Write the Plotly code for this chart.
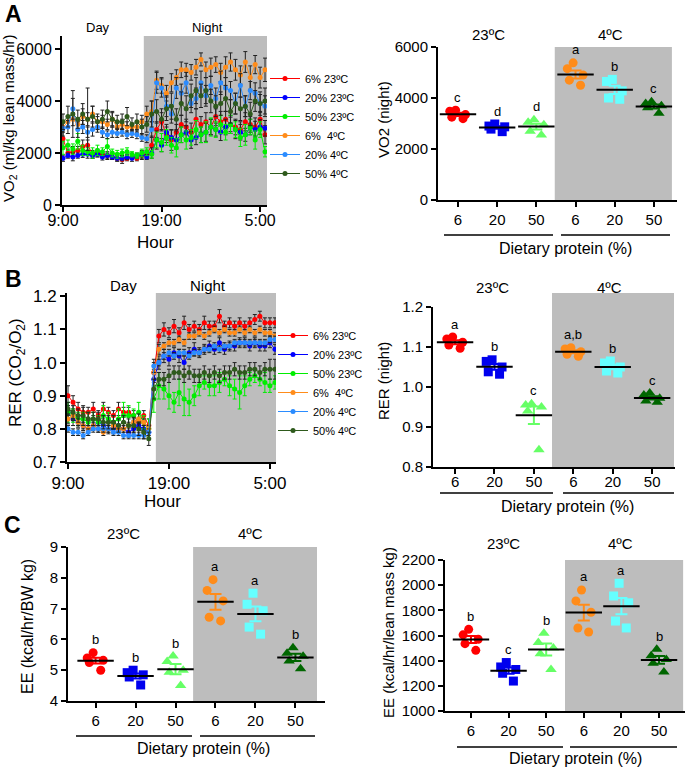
import numpy as np
import plotly.graph_objects as go

W, H = 685, 767
FONT = "Arial, Liberation Sans, Helvetica, sans-serif"

# calorimetry time course, 30 min bins starting at 9:00
hours = np.arange(0, 21, 0.5)
hour_ticks = [0, 10, 20]
hour_labels = ["9:00", "19:00", "5:00"]

group_names = ["6% 23ºC", "20% 23ºC", "50% 23ºC", "6%\u00a0 4ºC", "20% 4ºC", "50% 4ºC"]

# VO2 (ml/kg lean mass/hr)
vo2_6_23 = [2550, 2000, 2050, 2100, 2250, 2300, 1950, 2000, 1950, 1900, 1850, 1800, 1750, 1800, 1850, 1800, 1900, 1950,
            2300, 2900, 3200, 2700, 2500, 2800, 3100, 3000, 2800, 3300, 3100, 3200, 3000, 3400, 3200, 3300, 3100, 3000,
            2900, 3200, 3100, 3000, 3300, 2700]
vo2_20_23 = [1800, 1900, 1850, 1900, 1950, 1950, 1900, 1950, 1850, 1900, 1850, 1800, 1800, 1850, 1800, 1900, 1950, 1850,
             2000, 2500, 2300, 2800, 2600, 2500, 2700, 2800, 2500, 2600, 2700, 2800, 3000, 2900, 2800, 3000, 3100, 2900,
             2800, 2700, 3000, 2900, 3000, 2950]
vo2_50_23 = [2200, 2300, 2150, 2450, 2100, 2050, 2000, 2100, 2050, 2250, 2000, 1950, 2000, 2050, 1950, 1900, 2000, 2050,
             1950, 2500, 2400, 2600, 2300, 2200, 2700, 2500, 2600, 2900, 2700, 2800, 3000, 2900, 3100, 2800, 3100, 2900,
             2600, 2700, 3000, 2500, 2900, 2050]
vo2_6_4 = [3000, 3200, 3300, 3100, 3400, 3300, 3500, 3200, 3200, 3100, 3300, 3000, 3100, 3000, 3000, 3000, 3200, 3500,
           3600, 4800, 4600, 4300, 4700, 4900, 5200, 5200, 5100, 5300, 5600, 5200, 5300, 5400, 5100, 5300, 5500, 5200,
           5000, 5500, 4900, 5400, 4900, 5200]
vo2_20_4 = [2950, 3000, 3700, 2900, 3000, 2800, 2900, 3000, 2800, 2700, 2800, 2750, 2800, 2700, 2750, 2700, 2600, 2550,
            2900, 4700, 4500, 3800, 3500, 4500, 4300, 4700, 3900, 4100, 4700, 4200, 4600, 4100, 4700, 4500, 4400, 3900,
            4600, 3800, 4400, 4300, 3900, 3800]
vo2_50_4 = [3200, 3400, 3500, 3300, 3500, 3300, 3400, 3200, 3300, 3600, 3300, 3200, 3200, 3400, 3100, 3200, 3000, 3100,
            3500, 3600, 3300, 3700, 3800, 3300, 3900, 3700, 4200, 4400, 4200, 4400, 4000, 3800, 3900, 4100, 3600, 3900,
            3700, 3800, 3500, 4000, 3900, 4000]

vo2_6_23_err = [300, 150, 200, 150, 250, 200, 150, 150, 100, 150, 100, 100, 150, 100, 100, 100, 150, 150,
                350, 300, 350, 300, 400, 300, 350, 300, 350, 400, 300, 350, 300, 350, 400, 300, 350, 300,
                300, 350, 300, 350, 300, 350]
vo2_20_23_err = [120, 100, 150, 100, 120, 150, 100, 100, 120, 100, 100, 120, 100, 100, 120, 100, 150, 100,
                 200, 350, 250, 300, 280, 350, 300, 250, 320, 280, 300, 350, 300, 250, 320, 300, 280, 350,
                 300, 250, 300, 320, 280, 300]
vo2_50_23_err = [250, 200, 200, 300, 200, 150, 200, 200, 150, 300, 150, 150, 150, 150, 100, 100, 150, 150,
                 150, 300, 350, 300, 300, 350, 300, 350, 300, 350, 300, 400, 350, 300, 350, 300, 350, 300,
                 350, 400, 300, 350, 300, 200]
vo2_6_4_err = [200, 200, 250, 200, 300, 250, 300, 200, 250, 200, 250, 200, 200, 200, 150, 200, 250, 300,
               400, 350, 300, 300, 350, 300, 300, 250, 300, 300, 250, 300, 350, 300, 350, 400, 350, 400,
               350, 400, 450, 350, 400, 450]
vo2_20_4_err = [300, 250, 400, 300, 250, 200, 250, 200, 200, 150, 200, 150, 150, 150, 150, 150, 150, 150,
                300, 400, 350, 400, 350, 400, 350, 400, 350, 400, 450, 400, 350, 400, 450, 400, 350, 400,
                450, 400, 350, 400, 350, 400]
vo2_50_4_err = [300, 400, 900, 350, 400, 1200, 400, 300, 350, 400, 300, 250, 300, 350, 250, 300, 300, 300,
                500, 450, 400, 450, 500, 400, 450, 500, 450, 500, 450, 500, 450, 400, 450, 500, 450, 400,
                450, 400, 450, 400, 450, 500]

# RER (CO2/O2)
rer_6_23 = [0.90, 0.88, 0.86, 0.85, 0.85, 0.86, 0.84, 0.86, 0.85, 0.84, 0.86, 0.85, 0.85, 0.84, 0.82, 0.84, 0.81, 0.97,
            1.08, 1.10, 1.09, 1.11, 1.09, 1.12, 1.10, 1.11, 1.10, 1.12, 1.11, 1.11, 1.14, 1.11, 1.12, 1.11, 1.12, 1.11,
            1.12, 1.13, 1.14, 1.12, 1.12, 1.12]
rer_20_23 = [0.85, 0.83, 0.82, 0.81, 0.80, 0.81, 0.82, 0.81, 0.80, 0.80, 0.81, 0.80, 0.79, 0.80, 0.81, 0.80, 0.79, 0.95,
             1.00, 1.02, 1.01, 1.03, 1.02, 1.00, 1.03, 1.04, 1.03, 1.04, 1.05, 1.04, 1.06, 1.04, 1.05, 1.05, 1.06, 1.06,
             1.05, 1.06, 1.05, 1.05, 1.06, 1.04]
rer_50_23 = [0.85, 0.84, 0.83, 0.83, 0.82, 0.83, 0.82, 0.84, 0.83, 0.82, 0.83, 0.84, 0.84, 0.84, 0.85, 0.82, 0.80, 0.89,
             0.93, 0.92, 0.90, 0.88, 0.91, 0.89, 0.88, 0.90, 0.93, 0.94, 0.93, 0.93, 0.94, 0.95, 0.93, 0.92, 0.91, 0.93,
             0.95, 0.96, 0.95, 0.94, 0.93, 0.94]
rer_6_4 = [0.83, 0.84, 0.82, 0.81, 0.80, 0.81, 0.80, 0.79, 0.80, 0.81, 0.80, 0.80, 0.81, 0.82, 0.83, 0.82, 0.80, 0.97,
           1.04, 1.05, 1.06, 1.06, 1.07, 1.06, 1.08, 1.08, 1.09, 1.08, 1.09, 1.10, 1.09, 1.10, 1.09, 1.09, 1.10, 1.09,
           1.10, 1.09, 1.10, 1.09, 1.09, 1.08]
rer_20_4 = [0.80, 0.79, 0.79, 0.78, 0.79, 0.80, 0.80, 0.80, 0.80, 0.79, 0.79, 0.78, 0.78, 0.78, 0.78, 0.78, 0.79, 0.99,
            1.00, 1.02, 1.03, 1.02, 1.03, 1.03, 1.02, 1.03, 1.03, 1.04, 1.04, 1.05, 1.04, 1.05, 1.05, 1.06, 1.06, 1.06,
            1.06, 1.06, 1.06, 1.06, 1.07, 1.07]
rer_50_4 = [0.86, 0.85, 0.84, 0.84, 0.83, 0.83, 0.83, 0.82, 0.82, 0.82, 0.81, 0.82, 0.81, 0.81, 0.80, 0.79, 0.77, 0.92,
            0.95, 0.95, 0.96, 0.97, 0.97, 0.96, 0.97, 0.96, 0.96, 0.97, 0.96, 0.97, 0.96, 0.97, 0.97, 0.98, 0.97, 0.97,
            0.98, 0.98, 0.97, 0.98, 0.98, 0.98]

rer_6_23_err = [0.03, 0.02, 0.02, 0.015, 0.015, 0.02, 0.015, 0.02, 0.015, 0.015, 0.02, 0.015, 0.015, 0.015, 0.015, 0.015, 0.02, 0.03,
                0.02, 0.02, 0.015, 0.02, 0.015, 0.02, 0.015, 0.015, 0.015, 0.02, 0.015, 0.015, 0.02, 0.015, 0.015, 0.015, 0.015, 0.015,
                0.015, 0.015, 0.015, 0.015, 0.015, 0.015]
rer_20_23_err = [0.02, 0.02, 0.015, 0.015, 0.02, 0.015, 0.015, 0.02, 0.015, 0.015, 0.015, 0.02, 0.015, 0.015, 0.015, 0.015, 0.02, 0.03,
                 0.02, 0.02, 0.02, 0.015, 0.02, 0.02, 0.015, 0.02, 0.015, 0.015, 0.015, 0.015, 0.015, 0.015, 0.015, 0.015, 0.015, 0.015,
                 0.015, 0.015, 0.015, 0.015, 0.015, 0.015]
rer_50_23_err = [0.03, 0.02, 0.02, 0.02, 0.03, 0.02, 0.02, 0.03, 0.02, 0.02, 0.03, 0.04, 0.03, 0.02, 0.03, 0.02, 0.03, 0.04,
                 0.04, 0.03, 0.04, 0.03, 0.04, 0.05, 0.04, 0.03, 0.03, 0.02, 0.03, 0.03, 0.03, 0.02, 0.03, 0.03, 0.05, 0.03,
                 0.02, 0.02, 0.02, 0.03, 0.02, 0.02]
rer_6_4_err = [0.015, 0.015, 0.01, 0.01, 0.01, 0.01, 0.01, 0.01, 0.01, 0.01, 0.01, 0.01, 0.01, 0.015, 0.015, 0.01, 0.01, 0.02,
               0.015, 0.01, 0.01, 0.01, 0.01, 0.01, 0.01, 0.01, 0.01, 0.01, 0.01, 0.01, 0.01, 0.01, 0.01, 0.01, 0.01, 0.01,
               0.01, 0.01, 0.01, 0.01, 0.01, 0.01]
rer_20_4_err = [0.01, 0.01, 0.01, 0.01, 0.01, 0.01, 0.01, 0.01, 0.01, 0.01, 0.01, 0.01, 0.01, 0.01, 0.01, 0.01, 0.01, 0.02,
                0.01, 0.01, 0.01, 0.01, 0.01, 0.01, 0.01, 0.01, 0.01, 0.01, 0.01, 0.01, 0.01, 0.01, 0.01, 0.01, 0.01, 0.01,
                0.01, 0.01, 0.01, 0.01, 0.01, 0.01]
rer_50_4_err = [0.02, 0.02, 0.02, 0.03, 0.02, 0.02, 0.02, 0.02, 0.02, 0.02, 0.02, 0.02, 0.02, 0.02, 0.02, 0.02, 0.02, 0.03,
                0.02, 0.02, 0.02, 0.02, 0.02, 0.02, 0.02, 0.02, 0.02, 0.02, 0.02, 0.02, 0.02, 0.02, 0.02, 0.02, 0.02, 0.02,
                0.02, 0.02, 0.02, 0.02, 0.03, 0.03]

# dot plots: five mice per group, order 6/20/50 % at 23ºC then 6/20/50 % at 4ºC
protein_labels = ["6", "20", "50", "6", "20", "50"]

vo2_night = [[3520, 3480, 3350, 3250, 3190], [2980, 2900, 2870, 2780, 2680], [3150, 3050, 2950, 2700, 2550],
             [5380, 5150, 4900, 4700, 4500], [4730, 4650, 4280, 4000, 3950], [3850, 3780, 3700, 3620, 3400]]
vo2_letters = ["c", "d", "d", "a", "b", "c"]

rer_night = [[1.125, 1.120, 1.112, 1.105, 1.097], [1.068, 1.064, 1.050, 1.038, 1.032], [0.958, 0.955, 0.950, 0.940, 0.843],
             [1.098, 1.095, 1.088, 1.082, 1.077], [1.065, 1.060, 1.050, 1.040, 1.035], [0.985, 0.980, 0.972, 0.965, 0.962]]
rer_letters = ["a", "b", "c", "a,b", "b", "c"]

ee_bw = [[5.57, 5.40, 5.32, 5.25, 5.00], [5.00, 4.92, 4.85, 4.78, 4.52], [5.46, 5.28, 5.00, 4.93, 4.50],
         [7.94, 7.59, 7.25, 6.72, 6.60], [7.50, 7.14, 6.93, 6.40, 6.17], [5.73, 5.55, 5.45, 5.30, 5.05]]
ee_bw_letters = ["b", "b", "b", "a", "a", "b"]

ee_lean = [[1649, 1605, 1570, 1535, 1482], [1385, 1350, 1330, 1300, 1238], [1617, 1545, 1500, 1455, 1330],
           [1962, 1875, 1785, 1660, 1628], [2015, 1914, 1860, 1715, 1660], [1490, 1440, 1410, 1380, 1310]]
ee_lean_letters = ["b", "c", "b", "a", "a", "b"]

line_colors = ["#ff0000", "#0000ff", "#00ee00", "#ff8c1a", "#2b8cff", "#2e5a1c"]
dot_colors = ["#ff0000", "#0000ee", "#66ff66", "#ff8c1a", "#66ffff", "#006600"]
dot_symbols = ["circle", "square", "triangle-up", "circle", "square", "triangle-up"]
GRAY = "#bdbdbd"


def fx(px):
    return px / W


def fy(py):
    return 1 - py / H


fig = go.Figure()

# ---- time courses (A and B, left) ----
vo2_series = [vo2_6_23, vo2_20_23, vo2_50_23, vo2_6_4, vo2_20_4, vo2_50_4]
vo2_errors = [vo2_6_23_err, vo2_20_23_err, vo2_50_23_err, vo2_6_4_err, vo2_20_4_err, vo2_50_4_err]
rer_series = [rer_6_23, rer_20_23, rer_50_23, rer_6_4, rer_20_4, rer_50_4]
rer_errors = [rer_6_23_err, rer_20_23_err, rer_50_23_err, rer_6_4_err, rer_20_4_err, rer_50_4_err]

for series, errors, xa, ya, leg in [(vo2_series, vo2_errors, "x", "y", "legend"),
                                     (rer_series, rer_errors, "x3", "y3", "legend2")]:
    for i, (vals, err) in enumerate(zip(series, errors)):
        bar_color = line_colors[i] if i == 2 else "#222222"
        fig.add_trace(go.Scatter(
            x=hours, y=vals, xaxis=xa, yaxis=ya, name=group_names[i], legend=leg,
            mode="lines+markers",
            line=dict(color=line_colors[i], width=1),
            marker=dict(color=line_colors[i], size=5, symbol="circle"),
            error_y=dict(type="data", array=err, color=bar_color, thickness=1, width=2),
        ))

# ---- dot plots ----
dot_panels = [(vo2_night, vo2_letters, "x2", "y2"),
              (rer_night, rer_letters, "x4", "y4"),
              (ee_bw, ee_bw_letters, "x5", "y5"),
              (ee_lean, ee_lean_letters, "x6", "y6")]

for groups, letters, xa, ya in dot_panels:
    for i, vals in enumerate(groups):
        fig.add_trace(go.Box(
            x0=i, y=vals, xaxis=xa, yaxis=ya, showlegend=False,
            boxpoints="all", jitter=0.9, pointpos=0, width=0.55,
            line=dict(width=0), fillcolor="rgba(0,0,0,0)",
            marker=dict(symbol=dot_symbols[i], size=10 if i % 3 == 2 else 9, color=dot_colors[i],
                        line=dict(width=0)),
            hoverinfo="y",
        ))
        mean = np.mean(vals)
        sem = np.std(vals, ddof=1) / np.sqrt(len(vals))
        fig.add_trace(go.Scatter(
            x=[i], y=[mean], xaxis=xa, yaxis=ya, showlegend=False, mode="markers",
            marker=dict(symbol="line-ew", size=26, color="black", line=dict(width=2, color="black")),
            error_y=dict(type="data", array=[sem], color=dot_colors[i], thickness=2, width=6),
        ))
        fig.add_annotation(x=i, y=max(vals), xref=xa, yref=ya, text=letters[i], showarrow=False,
                           yshift=13, font=dict(size=13, color="black"))


def base_axis(**kw):
    d = dict(showline=True, linecolor="black", linewidth=2, ticks="outside", ticklen=5, tickwidth=1.5,
             tickcolor="black", showgrid=False, zeroline=False, fixedrange=True,
             tickfont=dict(size=15, color="black", family=FONT))
    d.update(kw)
    return d


cat_ticks = dict(tickmode="array", tickvals=list(range(6)), ticktext=protein_labels)

layout_axes = dict(
    xaxis=base_axis(domain=[fx(62), fx(267)], range=[-0.1, 20.7], anchor="y", tickmode="array",
                    tickvals=hour_ticks, ticktext=hour_labels, ticklabelstandoff=-5,
                    tickfont=dict(size=16, color="black")),
    yaxis=base_axis(domain=[fy(205), fy(36)], range=[0, 6500], anchor="x", tickvals=[0, 2000, 4000, 6000],
                    tickfont=dict(size=16, color="black")),
    xaxis2=base_axis(domain=[fx(438), fx(677)], range=[-0.51, 5.59], anchor="y2", **cat_ticks),
    yaxis2=base_axis(domain=[fy(200), fy(47)], range=[0, 6000], anchor="x2", tickvals=[0, 2000, 4000, 6000]),
    xaxis3=base_axis(domain=[fx(67), fx(276)], range=[-0.1, 20.6], anchor="y3", tickmode="array",
                     tickvals=hour_ticks, ticktext=hour_labels, tickfont=dict(size=17, color="black")),
    yaxis3=base_axis(domain=[fy(462), fy(293)], range=[0.7, 1.21], anchor="x3",
                     tickvals=[0.7, 0.8, 0.9, 1.0, 1.1, 1.2], tickformat=".1f",
                     tickfont=dict(size=17, color="black")),
    xaxis4=base_axis(domain=[fx(433), fx(675)], range=[-0.56, 5.58], anchor="y4", ticklabelstandoff=-5,
                     **cat_ticks),
    yaxis4=base_axis(domain=[fy(467), fy(307)], range=[0.8, 1.2], anchor="x4",
                     tickvals=[0.8, 0.9, 1.0, 1.1, 1.2], tickformat=".1f"),
    xaxis5=base_axis(domain=[fx(68), fx(325)], range=[-0.69, 5.74], anchor="y5", **cat_ticks),
    yaxis5=base_axis(domain=[fy(701), fy(547)], range=[4, 9], anchor="x5", dtick=1),
    xaxis6=base_axis(domain=[fx(445), fx(685)], range=[-0.69, 5.69], anchor="y6", **cat_ticks),
    yaxis6=base_axis(domain=[fy(711), fy(560)], range=[1000, 2200], anchor="x6", dtick=200),
)

# gray "night" / "4ºC" backgrounds
shapes = [
    dict(type="rect", xref="x", yref="y", x0=8.2, x1=20.7, y0=0, y1=6500),
    dict(type="rect", xref="x3", yref="y3", x0=8.7, x1=20.6, y0=0.7, y1=1.21),
    dict(type="rect", xref="x2", yref="y2", x0=2.47, x1=5.46, y0=0, y1=6000),
    dict(type="rect", xref="paper", yref="paper", x0=fx(552), x1=fx(674), y0=fy(467), y1=fy(293)),
    dict(type="rect", xref="x5", yref="y5", x0=2.44, x1=5.54, y0=4, y1=9),
    dict(type="rect", xref="x6", yref="y6", x0=2.5, x1=5.64, y0=1000, y1=2200),
]
shapes = [dict(s, fillcolor=GRAY, line=dict(width=0), layer="below") for s in shapes]

# group underlines below the category labels
for y, segs in [(235, [(444, 553), (561, 670)]), (493, [(440, 553), (563, 674)]),
                (736, [(76, 192), (200, 315)]), (747, [(457, 563), (570, 677)])]:
    for x0, x1 in segs:
        shapes.append(dict(type="line", xref="paper", yref="paper", x0=fx(x0), x1=fx(x1), y0=fy(y), y1=fy(y),
                           line=dict(color="black", width=1.5)))


def txt(x, y, text, size, bold=False, angle=0):
    fig.add_annotation(x=fx(x), y=fy(y), xref="paper", yref="paper", text=f"<b>{text}</b>" if bold else text,
                       showarrow=False, textangle=angle, xanchor="center", yanchor="middle",
                       font=dict(size=size, color="black", family=FONT))


txt(13, 14, "A", 23, bold=True)
txt(13, 279, "B", 23, bold=True)
txt(12, 525, "C", 23, bold=True)

txt(98, 28, "Day", 13)
txt(207, 28, "Night", 13)
txt(123, 285, "Day", 15)
txt(208, 285, "Night", 15)
txt(155, 243, "Hour", 17)
txt(162, 501, "Hour", 17)

txt(9, 118, "VO<sub>2</sub> (ml/kg lean mass/hr)", 15, angle=-90)
txt(383, 120, "VO2 (night)", 15, angle=-90)
txt(17, 373, "RER (CO<sub>2</sub>/O<sub>2</sub>)", 17, angle=-90)
txt(383, 381, "RER (night)", 15, angle=-90)
txt(27, 627, "EE (kcal/hr/BW kg)", 16, angle=-90)
txt(388, 633, "EE (kcal/hr/lean mass kg)", 15, angle=-90)

for (x1, x2, y) in [(488, 610, 34), (492, 609, 287), (123, 250, 533), (503, 620, 543)]:
    txt(x1, y, "23ºC", 15)
    txt(x2, y, "4ºC", 15)

for (x, y) in [(565, 248), (567, 506), (203, 748), (575, 758)]:
    txt(x, y, "Dietary protein (%)", 16)

legend_style = dict(xanchor="left", yanchor="top", font=dict(size=11, color="black", family=FONT),
                    bgcolor="rgba(0,0,0,0)", borderwidth=0, itemclick=False, itemdoubleclick=False)

fig.update_layout(
    width=W, height=H,
    margin=dict(l=0, r=0, t=0, b=0),
    template="none",
    paper_bgcolor="white",
    plot_bgcolor="rgba(0,0,0,0)",
    font=dict(family=FONT, color="black"),
    showlegend=True,
    legend=dict(legend_style, x=fx(265), y=fy(64)),
    legend2=dict(legend_style, x=fx(273), y=fy(321)),
    shapes=shapes,
    **layout_axes,
)

# the page's default body margin would push the figure 8 px off the corner
fig.write_html("out.html", config={"displayModeBar": False},
               post_script="document.body.style.margin='0';document.body.style.padding='0';")
